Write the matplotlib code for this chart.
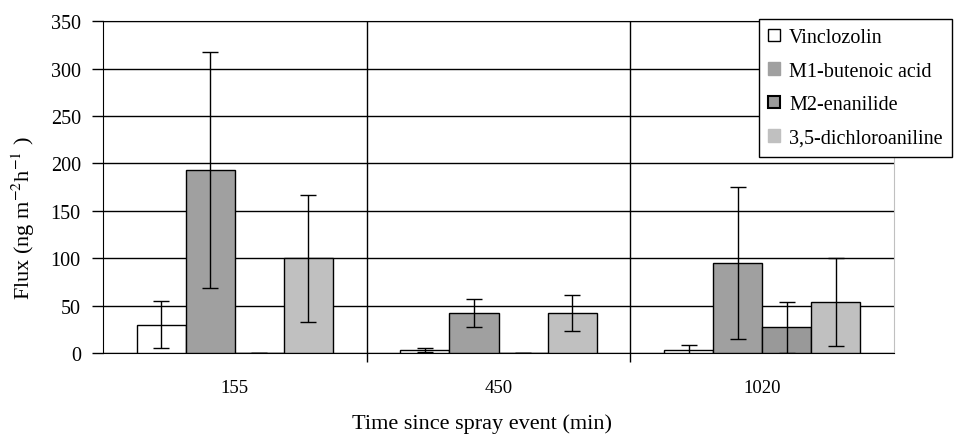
import matplotlib
matplotlib.use('Agg')
import matplotlib.pyplot as plt
import numpy as np

plt.rcParams['font.family'] = ['Liberation Serif', 'DejaVu Serif']
plt.rcParams['mathtext.fontset'] = 'stix'

times = ['155', '450', '1020']
names = ['Vinclozolin', 'M1-butenoic acid', 'M2-enanilide', '3,5-dichloroaniline']

vinclozolin = [30, 3, 3]
vinclozolin_err = [25, 2, 6]
m1_butenoic = [193, 42, 95]
m1_butenoic_err = [124, 15, 80]
m2_enanilide = [0.5, 0.5, 27]
m2_enanilide_err = [0, 0, 27]
dichloroaniline = [100, 42, 54]
dichloroaniline_err = [67, 19, 46]

values = [vinclozolin, m1_butenoic, m2_enanilide, dichloroaniline]
errors = [vinclozolin_err, m1_butenoic_err, m2_enanilide_err, dichloroaniline_err]
colors = ['white', '#a0a0a0', '#999999', '#c0c0c0']

fig = plt.figure(figsize=(9.57, 4.35), dpi=100)
ax = fig.add_axes([0.1076, 0.186, 0.8266, 0.763])

x = np.arange(len(times))
w = 0.186
for i in range(len(names)):
	pos = x + (i - 1.5) * w
	ax.bar(pos, values[i], w, color=colors[i], edgecolor='black', linewidth=1.0,
		label=names[i], zorder=3)
	ax.errorbar(pos, values[i], yerr=errors[i], fmt='none', ecolor='black',
		elinewidth=1.0, capsize=6, capthick=1.0, zorder=4)

ax.set_xlim(-0.5, 2.5)
ax.set_ylim(0, 350)
ax.set_yticks(range(0, 351, 50))
ax.set_xticks(x)
ax.set_xticklabels(times)
ax.set_xticks([0.5, 1.5], minor=True)
ax.tick_params(axis='x', which='major', length=0, labelsize=13.5, pad=19)
ax.tick_params(axis='x', which='minor', length=6.5, width=1, direction='out', color='black')
ax.tick_params(axis='y', labelsize=14.5, length=8, width=1, direction='out', pad=8)
ax.grid(axis='y', color='black', linewidth=1.0, zorder=0)
ax.grid(axis='x', which='minor', color='black', linewidth=1.0, zorder=0)
ax.set_axisbelow(True)
ax.spines['right'].set_color('#c0c0c0')
ax.spines['top'].set_color('black')

ax.set_ylabel('Flux (ng m$^{-2}$h$^{-1}$ )', fontsize=16)
ax.yaxis.set_label_coords(-0.083, 0.41)
ax.set_xlabel('Time since spray event (min)', fontsize=16)
ax.xaxis.set_label_coords(0.479, -0.181)

leg = fig.legend(loc='upper left', bbox_to_anchor=(759 / 957, 1 - 20 / 435), fontsize=14.5,
	handlelength=0.6, handleheight=0.6, labelspacing=0.72, handletextpad=0.45,
	borderpad=0.45, borderaxespad=0, fancybox=False, framealpha=1, edgecolor='black')
leg.get_frame().set_linewidth(1.0)
hl = leg.legend_handles
hl[1].set_edgecolor(colors[1])
hl[3].set_edgecolor(colors[3])
hl[2].set_linewidth(1.5)

plt.savefig('out.png', format='png', dpi=100)
